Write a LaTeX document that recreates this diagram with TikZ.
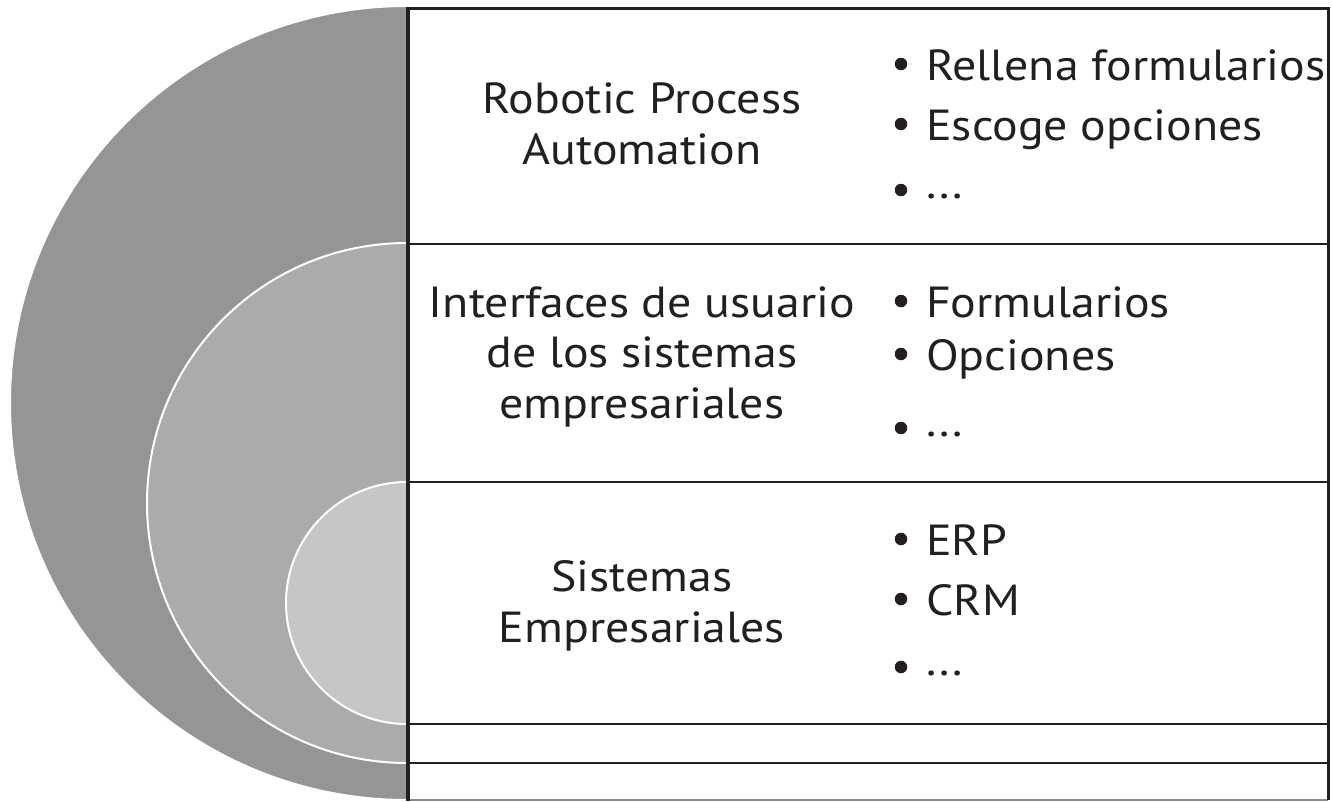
\documentclass[tikz,border=0pt]{standalone}
\usepackage{fontspec}
\setmainfont[FakeStretch=1.1]{PT Sans}
\definecolor{outerc}{HTML}{959597}
\definecolor{midc}{HTML}{ABABAB}
\definecolor{innerc}{HTML}{C6C6C6}
\definecolor{ink}{HTML}{231F20}
\begin{document}
\begin{tikzpicture}[x=1pt,y=-1pt,
  ring/.style={draw=white, line width=2pt},
  rowline/.style={draw=ink, line width=2.2pt},
  title/.style={font=\fontsize{43.5}{51}\selectfont, text=ink, inner sep=0pt, anchor=base},
  item/.style={font=\fontsize{43.5}{51}\selectfont, text=ink, inner sep=0pt, anchor=base west},
  bul/.style={circle, fill=ink, inner sep=0pt, minimum size=12.5pt}]
\useasboundingbox (0,0) rectangle (1332,801);
\fill[white] (0,0) rectangle (1332,801);
% nested half discs
\filldraw[ring, fill=outerc] (407,6) arc[start angle=270, end angle=90, radius=397] -- cycle;
\filldraw[ring, fill=midc] (407,243) arc[start angle=270, end angle=90, radius=260] -- cycle;
\filldraw[ring, fill=innerc] (407,482) arc[start angle=270, end angle=90, radius=121] -- cycle;
% table
\fill[white] (407,8) rectangle (1328,800);
\draw[draw=black!45, line width=1.5pt] (407,800) -- (1328,800);
\draw[rowline] (407,244) -- (1328,244);
\draw[rowline] (407,482) -- (1328,482);
\draw[rowline] (407,724) -- (1328,724);
\draw[rowline] (407,763) -- (1328,763);
\draw[draw=ink, line width=3pt] (1328,8) -- (1328,800);
\draw[draw=ink, line width=3.5pt] (405.5,8.5) -- (1329.5,8.5);
\draw[draw=ink, line width=4pt] (407.5,7) -- (407.5,801);
% titles
\node[title] (t1a) at (642,113) {Robotic Process};
\node[title] (t1b) at (642,164) {Automation};
\node[title] (t2a) at (642,317) {Interfaces de usuario};
\node[title] (t2b) at (642,367) {de los sistemas};
\node[title] (t2c) at (642,418) {empresariales};
\node[title] (t3a) at (642,591) {Sistemas};
\node[title] (t3b) at (642,642) {Empresariales};
% bullet items
\node[item] (i1a) at (926,80) {Rellena formularios};
\node[item] (i1b) at (926,140) {Escoge opciones};
\node[item] (i1c) at (926,198) {...};
\node[item] (i2a) at (926,317) {Formularios};
\node[item] (i2b) at (926,370) {Opciones};
\node[item] (i2c) at (926,436) {...};
\node[item] (i3a) at (926,555) {ERP};
\node[item] (i3b) at (926,615) {CRM};
\node[item] (i3c) at (926,675) {...};
\foreach \y/\n in {64/b1a,124/b1b,190/b1c,301/b2a,354/b2b,428/b2c,539/b3a,599/b3b,667/b3c}
  \node[bul] (\n) at (901,\y) {};
\end{tikzpicture}
\end{document}
